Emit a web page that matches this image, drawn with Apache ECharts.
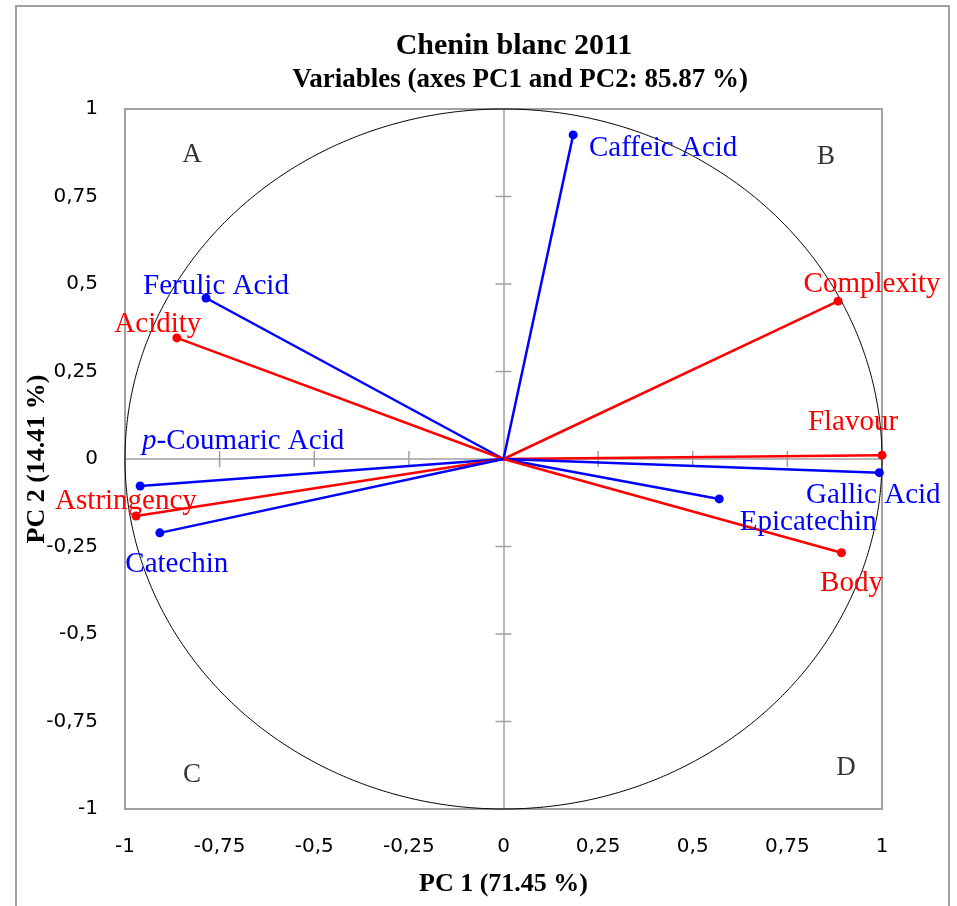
<!DOCTYPE html>
<html>
<head>
<meta charset="utf-8">
<script src="https://cdn.jsdelivr.net/npm/echarts@6/dist/echarts.min.js"></script>
<style>html,body{margin:0;padding:0;background:#fff;}#c{width:957px;height:906px;}</style>
</head>
<body>
<div id="c"></div>
<script>
// ---- data ----
var names = ['Caffeic Acid','Complexity','Flavour','Gallic Acid','Epicatechin','Body','Ferulic Acid','Acidity','p-Coumaric Acid','Astringency','Catechin'];
var pc1 = [0.184, 0.884, 1.000, 0.993, 0.570, 0.893, -0.786, -0.863, -0.960, -0.971, -0.908];
var pc2 = [0.926, 0.451, 0.011, -0.039, -0.114, -0.268, 0.460, 0.346, -0.077, -0.163, -0.211];
var kinds = ['phenolic','sensory','sensory','phenolic','phenolic','sensory','phenolic','sensory','phenolic','sensory','phenolic'];
var xTicks = [-1,-0.75,-0.5,-0.25,0,0.25,0.5,0.75,1];
var yTicks = [-1,-0.75,-0.5,-0.25,0,0.25,0.5,0.75,1];
var quadLetters = ['A','B','C','D'];
var quadX = [-0.823, 0.852, -0.823, 0.905];
var quadY = [0.869, 0.863, -0.903, -0.883];
var titleText = 'Chenin blanc 2011';
var subtitleText = 'Variables (axes PC1 and PC2: 85.87 %)';
var xName = 'PC 1 (71.45 %)';
var yName = 'PC 2 (14.41 %)';

// ---- layout / style ----
var colors = {sensory:'#ff0000', phenolic:'#0000ff'};
var labelOffsets = {
  'Caffeic Acid':[90,13], 'Complexity':[34,-17], 'Flavour':[-29,-33], 'Gallic Acid':[-6,23],
  'Epicatechin':[89,23], 'Body':[10,31], 'Ferulic Acid':[10,-12], 'Acidity':[-19,-14],
  'p-Coumaric Acid':[103,-45], 'Astringency':[-10,-15], 'Catechin':[17,32]
};
var serif = '"Liberation Serif","Times New Roman",serif';
var axisGray = '#a0a0a0';

var chart = echarts.init(document.getElementById('c'), null, {renderer:'canvas'});

var series = [];
// unit circle + cross ticks
series.push({
  type:'custom', silent:true, z:1, data:[[0,0]],
  renderItem:function(params, api){
    var pts = [];
    for (var i = 0; i <= 720; i++) {
      var a = i/720*Math.PI*2;
      pts.push(api.coord([Math.cos(a), Math.sin(a)]));
    }
    var children = [{type:'polyline', shape:{points:pts}, style:{stroke:'#000', lineWidth:1, fill:null}}];
    var t = 8;
    xTicks.forEach(function(v){
      if (v === -1 || v === 1 || v === 0) return;
      var p = api.coord([v,0]);
      children.push({type:'line', shape:{x1:p[0],y1:p[1]-t,x2:p[0],y2:p[1]+t}, style:{stroke:axisGray, lineWidth:1.5}});
    });
    yTicks.forEach(function(v){
      if (v === -1 || v === 1 || v === 0) return;
      var p = api.coord([0,v]);
      children.push({type:'line', shape:{x1:p[0]-t,y1:p[1],x2:p[0]+t,y2:p[1]}, style:{stroke:axisGray, lineWidth:1.5}});
    });
    return {type:'group', children:children};
  }
});

names.forEach(function(n, i){
  var c = colors[kinds[i]];
  var off = labelOffsets[n];
  var isP = n.indexOf('p-') === 0;
  series.push({
    type:'line', name:n, z:3, showSymbol:true, showAllSymbol:true, symbol:'circle',
    lineStyle:{color:c, width:2.5}, itemStyle:{color:c},
    emphasis:{disabled:true},
    data:[
      {value:[0,0], symbolSize:0, label:{show:false}},
      {value:[pc1[i], pc2[i]], symbolSize:9, label:{
        show:true, position:'inside', offset:off, align:'center', verticalAlign:'middle',
        formatter: isP ? '{i|p}-' + n.slice(2) : n,
        color:c, fontFamily:serif, fontSize:29,
        rich:{i:{fontStyle:'italic', fontFamily:serif, fontSize:29, color:c}}
      }}
    ]
  });
});

series.push({
  type:'scatter', silent:true, symbolSize:0, z:2,
  data: quadLetters.map(function(l, i){ return {value:[quadX[i], quadY[i]], name:l}; }),
  label:{show:true, position:'inside', formatter:'{b}', color:'#000', fontFamily:serif, fontSize:27}
});

var fmt = function(v){ return String(v).replace('.', ','); };

chart.setOption({
  animation:false,
  backgroundColor:'#fff',
  grid:{left:125, top:109, width:757, height:700, outerBoundsMode:'none', containLabel:false,
        show:true, borderColor:axisGray, borderWidth:2, backgroundColor:'transparent'},
  xAxis:[
    {type:'value', min:-1, max:1, interval:0.25, position:'bottom',
     axisLine:{show:false}, axisTick:{show:false}, splitLine:{show:false},
     axisLabel:{formatter:fmt, margin:28, color:'#000', fontFamily:'"DejaVu Sans",sans-serif', fontSize:20},
     name:xName, nameLocation:'middle', nameGap:62, nameMoveOverlap:false,
     nameTextStyle:{fontFamily:serif, fontWeight:'bold', fontSize:26, color:'#000'}},
    {type:'value', min:-1, max:1, interval:0.25, position:'top',
     axisLine:{show:true, onZero:true, lineStyle:{color:axisGray, width:1.5}},
     axisTick:{show:false}, axisLabel:{show:false}, splitLine:{show:false}}
  ],
  yAxis:[
    {type:'value', min:-1, max:1, interval:0.25, position:'left',
     axisLine:{show:false}, axisTick:{show:false}, splitLine:{show:false},
     axisLabel:{formatter:fmt, margin:27, color:'#000', fontFamily:'"DejaVu Sans",sans-serif', fontSize:20},
     name:yName, nameLocation:'middle', nameGap:75, nameMoveOverlap:false,
     nameTextStyle:{fontFamily:serif, fontWeight:'bold', fontSize:26, color:'#000'}},
    {type:'value', min:-1, max:1, interval:0.25, position:'right',
     axisLine:{show:true, onZero:true, lineStyle:{color:axisGray, width:1.5}},
     axisTick:{show:false}, axisLabel:{show:false}, splitLine:{show:false}}
  ],
  graphic:[
    {type:'rect', silent:true, z:-1, shape:{x:16, y:6, width:933, height:930}, style:{fill:null, stroke:axisGray, lineWidth:2}},
    {type:'text', silent:true, x:514, y:46, style:{text:titleText, align:'center', verticalAlign:'middle', font:'bold 30px ' + serif, fill:'#000'}},
    {type:'text', silent:true, x:520, y:80, style:{text:subtitleText, align:'center', verticalAlign:'middle', font:'bold 27px ' + serif, fill:'#000'}}
  ],
  series:series
});
</script>
</body>
</html>
